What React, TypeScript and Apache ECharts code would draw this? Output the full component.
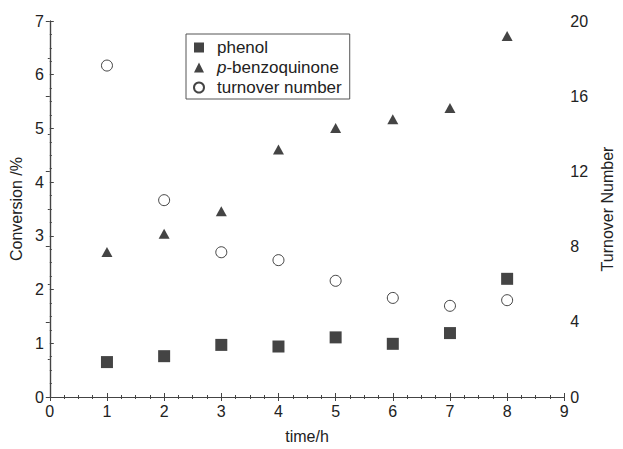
import React, { useEffect, useRef } from "react";
import * as echarts from "echarts";

const timeH = [1, 2, 3, 4, 5, 6, 7, 8];
const phenol = [0.65, 0.76, 0.97, 0.94, 1.11, 0.99, 1.19, 2.2];
const benzoquinone = [2.7, 3.04, 3.46, 4.61, 5.01, 5.17, 5.38, 6.72];
const turnover = [17.63, 10.47, 7.7, 7.28, 6.18, 5.27, 4.85, 5.15];

const FONT = "'Liberation Sans', Arial, Helvetica, sans-serif";
const INK = "#222222";
const MARK = "#151515";
const AXIS = "#444444";

export default function App() {
  const ref = useRef<HTMLDivElement>(null);
  useEffect(() => {
    if (!ref.current) return;
    const chart = echarts.init(ref.current, null, { renderer: "svg" });
    const pair = (ys: number[]) => timeH.map((t, i) => [t, ys[i]]);
    const axisCommon = {
      axisLine: { show: true, lineStyle: { color: AXIS, width: 1.2 } },
      axisTick: { show: true, inside: true, length: 4, lineStyle: { color: AXIS } },
      minorTick: { show: true, length: 2, lineStyle: { color: AXIS } },
      splitLine: { show: false },
      minorSplitLine: { show: false },
      axisLabel: { color: INK, fontSize: 16, fontFamily: FONT },
      nameTextStyle: { color: INK, fontSize: 16, fontFamily: FONT },
    };
    chart.setOption({
      animation: false,
      backgroundColor: "#ffffff",
      grid: { left: 49, right: 49, top: 21, bottom: 51, containLabel: false },
      legend: {
        left: 186,
        top: 34,
        orient: "vertical",
        itemWidth: 10,
        itemHeight: 10,
        itemGap: 3,
        padding: [5, 8, 3, 7],
        borderColor: "#555555",
        borderWidth: 1,
        backgroundColor: "#ffffff",
        textStyle: {
          color: INK,
          fontSize: 17,
          fontFamily: FONT,
          padding: [0, 0, 0, 8],
          rich: {
            i: { fontStyle: "italic", fontSize: 17, fontFamily: FONT, color: INK },
            r: { fontSize: 17, fontFamily: FONT, color: INK },
          },
        },
        formatter: (name: string) =>
          name === "p-benzoquinone" ? "{i|p}{r|-benzoquinone}" : name,
        data: [
          { name: "phenol", icon: "rect" },
          { name: "p-benzoquinone", icon: "triangle" },
          { name: "turnover number", icon: "circle" },
        ],
      },
      xAxis: [
        {
          ...axisCommon,
          type: "value",
          min: 0,
          max: 9,
          interval: 1,
          minorTick: { ...axisCommon.minorTick, splitNumber: 4 },
          name: "time/h",
          nameLocation: "middle",
          nameGap: 31,
          axisLabel: { ...axisCommon.axisLabel, margin: 6 },
        },
        {
          ...axisCommon,
          type: "value",
          position: "top",
          min: 0,
          max: 9,
          interval: 1,
          minorTick: { ...axisCommon.minorTick, splitNumber: 4 },
          axisLabel: { show: false },
        },
      ],
      yAxis: [
        {
          ...axisCommon,
          type: "value",
          min: 0,
          max: 7,
          interval: 1,
          minorTick: { ...axisCommon.minorTick, splitNumber: 4 },
          name: "Conversion /%",
          nameLocation: "middle",
          nameRotate: 90,
          nameGap: 24,
          axisLabel: { ...axisCommon.axisLabel, margin: 6 },
        },
        {
          ...axisCommon,
          type: "value",
          position: "right",
          min: 0,
          max: 20,
          interval: 4,
          minorTick: { ...axisCommon.minorTick, splitNumber: 2 },
          name: "Turnover Number",
          nameLocation: "middle",
          nameRotate: 90,
          nameGap: 26,
          axisLabel: { ...axisCommon.axisLabel, margin: 6 },
        },
      ],
      series: [
        {
          name: "phenol",
          type: "scatter",
          symbol: "rect",
          symbolSize: 12,
          itemStyle: { color: MARK },
          data: pair(phenol),
        },
        {
          name: "p-benzoquinone",
          type: "scatter",
          symbol: "triangle",
          symbolSize: [11, 10],
          itemStyle: { color: MARK },
          data: pair(benzoquinone),
        },
        {
          name: "turnover number",
          type: "scatter",
          symbol: "circle",
          symbolSize: 11,
          yAxisIndex: 1,
          itemStyle: { color: "#ffffff", borderColor: MARK, borderWidth: 1 },
          data: pair(turnover),
        },
      ],
    });
    return () => chart.dispose();
  }, []);
  return <div ref={ref} style={{ width: 623, height: 449, position: "absolute", left: 0, top: 0 }} />;
}
